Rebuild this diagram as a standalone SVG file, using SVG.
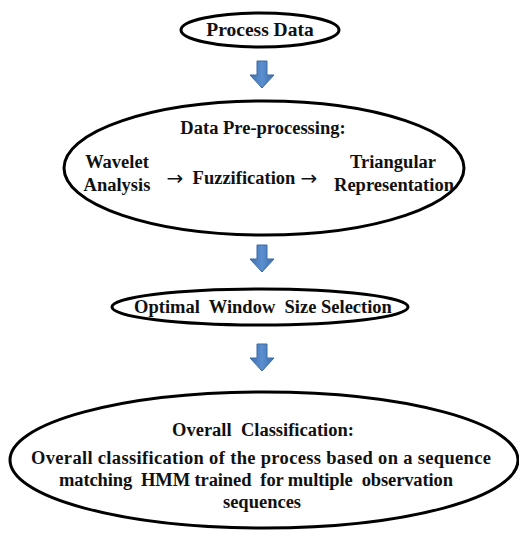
<svg xmlns="http://www.w3.org/2000/svg" width="519" height="533" viewBox="0 0 519 533">
<style>
.n{fill:#fff;stroke:#000;stroke-width:3}
.t{font-family:'Liberation Serif','Times New Roman',Times,serif;font-weight:bold;fill:#111;text-anchor:middle;font-size:18.5px}
.r{font-family:'DejaVu Sans','Liberation Sans',sans-serif;font-weight:normal;fill:#111;text-anchor:middle;font-size:20px}
.a{fill:url(#g);stroke:#3a6aa3;stroke-width:1}
</style>
<defs>
<linearGradient id="g" x1="0" y1="0" x2="1" y2="0">
<stop offset="0" stop-color="#3f6fae"/><stop offset="0.5" stop-color="#5b8fd0"/><stop offset="1" stop-color="#3f6fae"/>
</linearGradient>
<path id="arr" d="M-5,0 H5 V14 H12 L0,27 L-12,14 H-5 Z"/>
</defs>
<rect width="519" height="533" fill="#fff"/>
<g id="connectors">
<use href="#arr" class="a" x="262" y="61"/>
<use href="#arr" class="a" x="262" y="245"/>
<use href="#arr" class="a" x="262" y="344"/>
</g>
<g id="process-data">
<ellipse class="n" cx="260" cy="30" rx="79" ry="17"/>
<text class="t" x="260" y="36" style="font-size:19.5px">Process Data</text>
</g>
<g id="data-preprocessing">
<ellipse class="n" cx="264" cy="168" rx="200" ry="67"/>
<text class="t" x="263" y="134">Data Pre-processing:</text>
<text class="t" x="117" y="168">Wavelet</text>
<text class="t" x="117" y="191">Analysis</text>
<text class="r" x="175" y="185">→</text>
<text class="t" x="244" y="184">Fuzzification</text>
<text class="r" x="309" y="185">→</text>
<text class="t" x="393" y="168">Triangular</text>
<text class="t" x="394" y="191">Representation</text>
</g>
<g id="window-selection">
<ellipse class="n" cx="260" cy="307" rx="148" ry="18"/>
<text class="t" x="263" y="313" xml:space="preserve">Optimal  Window  Size Selection</text>
</g>
<g id="overall-classification">
<ellipse class="n" cx="264" cy="460" rx="254" ry="68"/>
<text class="t" x="263" y="436" xml:space="preserve">Overall  Classification:</text>
<text class="t" x="261" y="464" textLength="460" lengthAdjust="spacing">Overall classification of the process based on a sequence</text>
<text class="t" x="256" y="486" textLength="394" lengthAdjust="spacing" xml:space="preserve">matching  HMM trained  for multiple  observation</text>
<text class="t" x="262" y="508">sequences</text>
</g>
</svg>
